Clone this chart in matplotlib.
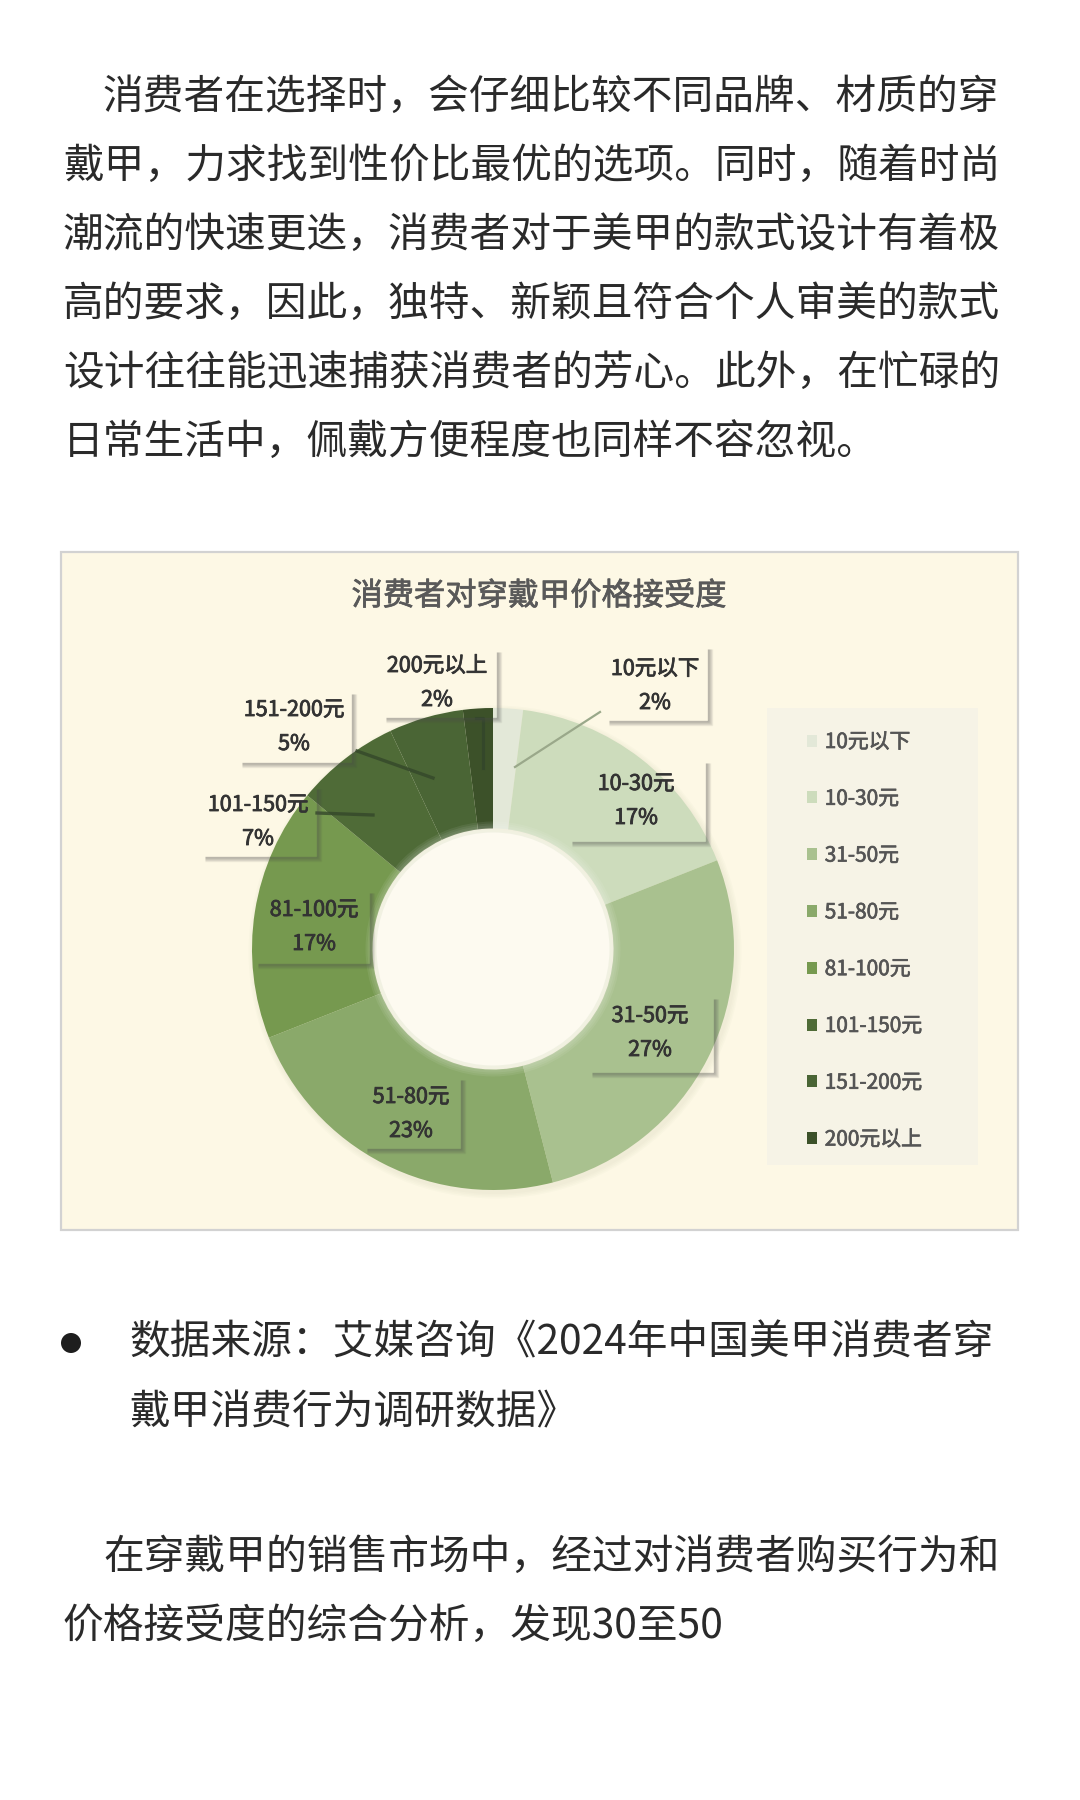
import matplotlib
matplotlib.use("Agg")
import matplotlib.pyplot as plt
import matplotlib.patheffects as pe
from matplotlib.patches import Rectangle, Circle

plt.rcParams['font.family'] = ['Noto Sans CJK SC', 'DejaVu Sans']

# ---------------- data ----------------
categories = ["10元以下", "10-30元", "31-50元", "51-80元", "81-100元",
              "101-150元", "151-200元", "200元以上"]
shares = [2, 17, 27, 23, 17, 7, 5, 2]
chart_title = "消费者对穿戴甲价格接受度"

para1 = ["消费者在选择时，会仔细比较不同品牌、材质的穿",
         "戴甲，力求找到性价比最优的选项。同时，随着时尚",
         "潮流的快速更迭，消费者对于美甲的款式设计有着极",
         "高的要求，因此，独特、新颖且符合个人审美的款式",
         "设计往往能迅速捕获消费者的芳心。此外，在忙碌的",
         "日常生活中，佩戴方便程度也同样不容忽视。"]
source_lines = ["数据来源：艾媒咨询《2024年中国美甲消费者穿",
                "戴甲消费行为调研数据》"]
para2 = ["在穿戴甲的销售市场中，经过对消费者购买行为和",
         "价格接受度的综合分析，发现30至50"]

# ---------------- style / layout ----------------
colors = ["#e3e8d8", "#cddcbc", "#a9c18f", "#8aa96a", "#76994f",
          "#4f6b37", "#4a6535", "#3c5129"]
W, H = 1080, 1800
def Y(y):
    return H - y

# label layout: text centre (px) and box (x0, y0, x1, y1)
label_xy = [(655, 686), (636, 801), (650, 1033), (411, 1114),
            (314, 927), (258, 822), (294, 727), (437, 683)]
label_box = [(605, 645, 708, 721), (568, 759, 706, 842), (588, 995, 714, 1073),
             (363, 1076, 461, 1149), (254, 889, 370, 964), (201, 785, 317, 857),
             (238, 690, 352, 763), (382, 648, 497, 718)]

fig = plt.figure(figsize=(W / 100, H / 100), dpi=100)
fig.patch.set_facecolor("white")
ax = fig.add_axes([0, 0, 1, 1])

body_color = "#2a2a2a"
body_size = 29.3

def semi(color, w=0.6):
    return [pe.withStroke(linewidth=w, foreground=color)]

# paragraph 1
for i, line in enumerate(para1):
    x = 103 if i == 0 else 63
    ax.text(x, Y(97 + i * 69), line, fontsize=body_size, color=body_color,
            ha="left", va="center")

# chart frame
ax.add_patch(Rectangle((61, Y(1230)), 957, 678, facecolor="#fdf8e5",
                       edgecolor="#d2d2d2", linewidth=1.6, zorder=1))
ax.text(539, Y(596), chart_title, fontsize=22.5, color="#595959",
        ha="center", va="center", zorder=5, path_effects=semi("#595959", 0.5))

# donut
cx, cy, R = 493, 949, 241
for k in range(4):
    ax.add_patch(Circle((cx + 2, Y(cy + 3)), R + 1 + k * 1.5, facecolor="#7a7a60",
                        alpha=0.025, edgecolor="none", zorder=2))
wedges, _ = ax.pie(shares, colors=colors, startangle=90, counterclock=False,
                   center=(cx, Y(cy)), radius=R,
                   wedgeprops=dict(width=R * 0.5, edgecolor="none", zorder=3))
for w in wedges:
    w.set_zorder(3)
# soft glow at the hole edge
for k in range(6):
    ax.add_patch(Circle((cx, Y(cy)), R * 0.5 + 7 - k * 2.0, facecolor="white",
                        alpha=0.07, edgecolor="none", zorder=3.5))
ax.add_patch(Circle((cx, Y(cy)), R * 0.5 - 4, facecolor="#fdfaf0",
                    edgecolor="none", zorder=3.6))

# leader lines
lead_col_light = "#9aa88a"
lead_col_dark = "#34472a"
ax.plot([600, 515], [Y(712), Y(767)], color=lead_col_light, lw=1.6, zorder=4)
ax.plot([476, 483, 483], [Y(718), Y(718), Y(768)], color=lead_col_dark, lw=2.2, zorder=4)
ax.plot([357, 433], [Y(751), Y(778)], color=lead_col_dark, lw=2.4, alpha=0.8, zorder=4)
ax.plot([317, 373], [Y(813), Y(815)], color=lead_col_dark, lw=2.4, alpha=0.8, zorder=4)

# labels with soft right/bottom shadows
lab_col = "#333333"
for (tx, ty), (x0, y0, x1, y1), cat, v in zip(label_xy, label_box, categories, shares):
    for k in range(5):
        a = 0.34 - k * 0.065
        ax.plot([x1 + k, x1 + k], [Y(y0 + 4), Y(y1 + k)], color="#4a4a4a",
                alpha=a, lw=1.0, solid_capstyle="butt", zorder=4.5)
        ax.plot([x0 + 4, x1 + k], [Y(y1 + k), Y(y1 + k)], color="#4a4a4a",
                alpha=a, lw=1.0, solid_capstyle="butt", zorder=4.5)
    ax.text(tx, Y(ty - 17), cat, fontsize=15.5, color=lab_col,
            ha="center", va="center", zorder=6, path_effects=semi(lab_col))
    ax.text(tx, Y(ty + 17), f"{v}%", fontsize=15.5, color=lab_col,
            ha="center", va="center", zorder=6, path_effects=semi(lab_col))

# legend
ax.add_patch(Rectangle((767, Y(1165)), 211, 457, facecolor="#f6f3e6",
                       edgecolor="none", zorder=2))
leg = ax.legend(wedges, categories, loc="upper left",
                bbox_to_anchor=(807, Y(731)), bbox_transform=ax.transData,
                frameon=False, prop=dict(size=15),
                labelcolor="#555555",
                handlelength=0.5, handleheight=0.5, handletextpad=0.35,
                labelspacing=1.67, borderpad=0, borderaxespad=0)
leg.set_zorder(6)
for t in leg.get_texts():
    t.set_path_effects(semi("#555555", 0.5))

# bullet + source
ax.add_patch(Circle((71, Y(1343)), 10, facecolor="#1e1e1e", edgecolor="none"))
for i, line in enumerate(source_lines):
    ax.text(129, Y(1343 + i * 70), line, fontsize=body_size, color=body_color,
            ha="left", va="center")

# paragraph 2
for i, line in enumerate(para2):
    x = 103 if i == 0 else 63
    ax.text(x, Y(1557 + i * 69), line, fontsize=body_size, color=body_color,
            ha="left", va="center")

ax.set_xlim(0, W)
ax.set_ylim(0, H)
ax.set_aspect("auto")
ax.axis("off")

fig.savefig("out.png", dpi=100, facecolor="white")
